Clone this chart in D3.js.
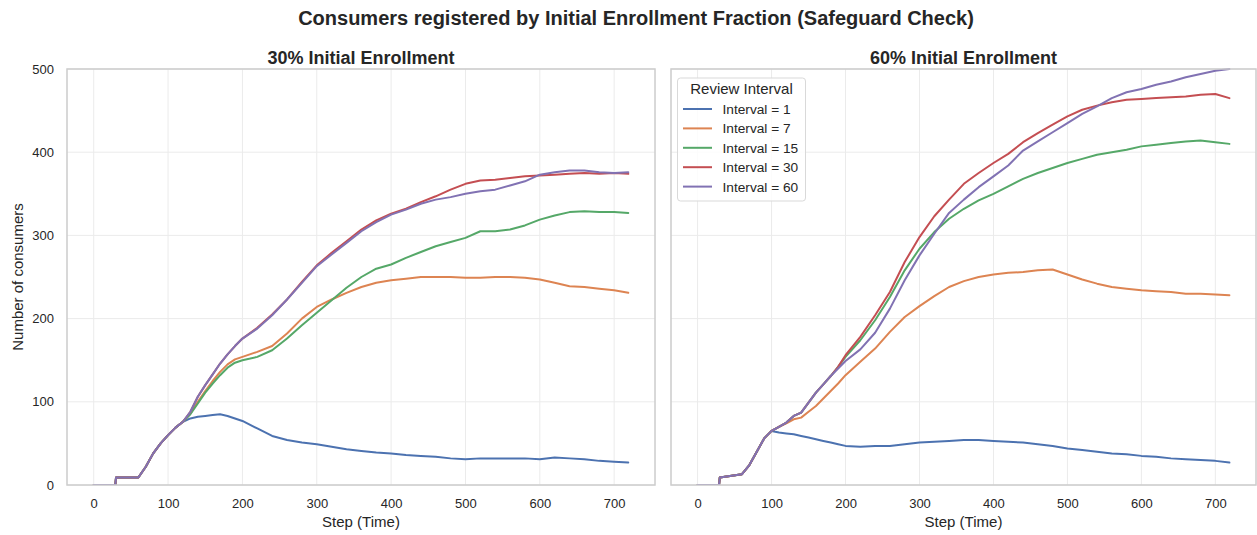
<!DOCTYPE html>
<html>
<head>
<meta charset="utf-8">
<script src="https://cdn.jsdelivr.net/npm/d3@7"></script>
<style>
  html, body { margin: 0; padding: 0; background: #ffffff; }
  svg { display: block; font-family: "Liberation Sans", Arial, sans-serif; }
</style>
</head>
<body>
<svg id="chart" width="1257" height="535"></svg>
<script>
// Simulation steps at which the registered-consumer counts were sampled
const steps = [0, 29, 30, 60, 70, 80, 90, 100, 110, 120, 130, 140, 150, 160, 170, 180, 190, 200,
  220, 240, 260, 280, 300, 320, 340, 360, 380, 400, 420, 440, 460, 480, 500, 520, 540, 560,
  580, 600, 620, 640, 660, 680, 700, 719];

const intervals = [1, 7, 15, 30, 60];
const seriesColors = ["#4C72B0", "#DD8452", "#55A868", "#C44E52", "#8172B3"];
const panelTitles = ["30% Initial Enrollment", "60% Initial Enrollment"];
const xTicks = [0, 100, 200, 300, 400, 500, 600, 700];
const yTicks = [0, 100, 200, 300, 400, 500];

// 30% initial enrollment
const p30_i1  = [0, 0, 9, 9, 22, 38, 50, 60, 69, 76, 80, 82, 83, 84, 85, 83, 80, 77,
  68, 59, 54, 51, 49, 46, 43, 41, 39, 38, 36, 35, 34, 32, 31, 32, 32, 32,
  32, 31, 33, 32, 31, 29, 28, 27];
const p30_i7  = [0, 0, 9, 9, 22, 38, 50, 60, 69, 76, 86, 100, 113, 125, 136, 145, 151, 154,
  160, 167, 182, 200, 214, 223, 231, 238, 243, 246, 248, 250, 250, 250, 249, 249, 250, 250,
  249, 247, 243, 239, 238, 236, 234, 231];
const p30_i15 = [0, 0, 9, 9, 22, 38, 50, 60, 69, 76, 85, 98, 111, 122, 132, 141, 147, 150,
  154, 162, 176, 192, 207, 222, 237, 250, 260, 265, 273, 280, 287, 292, 297, 305, 305, 307,
  312, 319, 324, 328, 329, 328, 328, 327];
const p30_i30 = [0, 0, 9, 9, 22, 38, 50, 60, 69, 76, 88, 106, 120, 133, 146, 157, 167, 176,
  189, 205, 223, 244, 264, 279, 293, 307, 318, 326, 332, 340, 347, 355, 362, 366, 367, 369,
  371, 372, 373, 374, 375, 374, 375, 374];
const p30_i60 = [0, 0, 9, 9, 22, 38, 50, 60, 69, 76, 88, 106, 120, 133, 146, 157, 167, 176,
  188, 204, 223, 243, 263, 277, 291, 305, 316, 325, 331, 338, 343, 346, 350, 353, 355, 360,
  365, 373, 376, 378, 378, 376, 375, 376];

// 60% initial enrollment
const p60_i1  = [0, 0, 9, 13, 24, 40, 56, 65, 63, 62, 61, 59, 57, 55, 53, 51, 49, 47,
  46, 47, 47, 49, 51, 52, 53, 54, 54, 53, 52, 51, 49, 47, 44, 42, 40, 38,
  37, 35, 34, 32, 31, 30, 29, 27];
const p60_i7  = [0, 0, 9, 13, 24, 40, 56, 65, 70, 74, 79, 81, 88, 95, 104, 113, 122, 132,
  148, 164, 184, 202, 215, 227, 238, 245, 250, 253, 255, 256, 258, 259, 253, 247, 242, 238,
  236, 234, 233, 232, 230, 230, 229, 228];
const p60_i15 = [0, 0, 9, 13, 24, 40, 56, 65, 70, 75, 83, 87, 99, 111, 121, 131, 142, 154,
  174, 198, 226, 258, 284, 304, 320, 332, 342, 350, 359, 368, 375, 381, 387, 392, 397, 400,
  403, 407, 409, 411, 413, 414, 412, 410];
const p60_i30 = [0, 0, 9, 13, 24, 40, 56, 65, 70, 75, 83, 87, 99, 111, 121, 131, 142, 156,
  178, 204, 232, 268, 298, 323, 343, 362, 375, 387, 398, 412, 423, 433, 443, 451, 456, 460,
  463, 464, 465, 466, 467, 469, 470, 465];
const p60_i60 = [0, 0, 9, 13, 24, 40, 56, 65, 70, 75, 83, 87, 99, 111, 121, 131, 140, 149,
  163, 183, 212, 246, 276, 302, 327, 343, 358, 371, 384, 402, 413, 424, 435, 446, 455, 465,
  472, 476, 481, 485, 490, 494, 498, 500];

const panels = [
  { title: panelTitles[0], series: [p30_i1, p30_i7, p30_i15, p30_i30, p30_i60],
    left: 67, right: 655, showY: true, legend: false },
  { title: panelTitles[1], series: [p60_i1, p60_i7, p60_i15, p60_i30, p60_i60],
    left: 671, right: 1256, showY: false, legend: true }
];

const plotTop = 69, plotBottom = 485;
const textColor = "#262626";
const svg = d3.select("#chart");

// Figure title
svg.append("text")
  .attr("x", 636).attr("y", 25)
  .attr("text-anchor", "middle")
  .attr("font-size", 20).attr("font-weight", "bold")
  .attr("fill", textColor)
  .text("Consumers registered by Initial Enrollment Fraction (Safeguard Check)");

// Shared y-axis label
svg.append("text")
  .attr("transform", `translate(23,${(plotTop + plotBottom) / 2}) rotate(-90)`)
  .attr("text-anchor", "middle")
  .attr("font-size", 15).attr("fill", textColor)
  .text("Number of consumers");

panels.forEach((p, pi) => {
  const x = d3.scaleLinear().domain([-35.95, 754.95]).range([p.left, p.right]);
  const y = d3.scaleLinear().domain([0, 500]).range([plotBottom, plotTop]);
  const g = svg.append("g");

  // Grid
  g.append("g").selectAll("line").data(xTicks).join("line")
    .attr("x1", d => x(d)).attr("x2", d => x(d))
    .attr("y1", plotTop).attr("y2", plotBottom)
    .attr("stroke", "#ebebeb").attr("stroke-width", 1);
  g.append("g").selectAll("line").data(yTicks).join("line")
    .attr("x1", p.left).attr("x2", p.right)
    .attr("y1", d => y(d)).attr("y2", d => y(d))
    .attr("stroke", "#ebebeb").attr("stroke-width", 1);

  // Axes (tick labels only, no tick marks)
  const xAxis = g.append("g")
    .attr("transform", `translate(0,${plotBottom})`)
    .call(d3.axisBottom(x).tickValues(xTicks).tickSize(0).tickPadding(13.5).tickFormat(d3.format("d")));
  xAxis.select(".domain").remove();
  xAxis.selectAll("text").attr("font-size", 13).attr("fill", textColor)
    .attr("font-family", "Liberation Sans, Arial, sans-serif");

  if (p.showY) {
    const yAxis = g.append("g")
      .attr("transform", `translate(${p.left},0)`)
      .call(d3.axisLeft(y).tickValues(yTicks).tickSize(0).tickPadding(13).tickFormat(d3.format("d")));
    yAxis.select(".domain").remove();
    yAxis.selectAll("text").attr("font-size", 13).attr("fill", textColor)
      .attr("font-family", "Liberation Sans, Arial, sans-serif");
  }

  // Series lines
  const clipId = "clip" + pi;
  svg.append("clipPath").attr("id", clipId).append("rect")
    .attr("x", p.left).attr("y", plotTop - 1)
    .attr("width", p.right - p.left).attr("height", plotBottom - plotTop + 1);
  const line = d3.line().x((d, i) => x(steps[i])).y(d => y(d));
  g.append("g").attr("clip-path", `url(#${clipId})`)
    .selectAll("path").data(p.series).join("path")
    .attr("d", line)
    .attr("fill", "none")
    .attr("stroke", (d, i) => seriesColors[i])
    .attr("stroke-width", 2)
    .attr("stroke-linejoin", "round")
    .attr("stroke-linecap", "round");

  // Frame
  g.append("rect")
    .attr("x", p.left).attr("y", plotTop)
    .attr("width", p.right - p.left).attr("height", plotBottom - plotTop)
    .attr("fill", "none").attr("stroke", "#cccccc").attr("stroke-width", 1.5);

  // Panel title and x label
  g.append("text")
    .attr("x", (p.left + p.right) / 2).attr("y", 63.5)
    .attr("text-anchor", "middle")
    .attr("font-size", 18).attr("font-weight", "bold").attr("fill", textColor)
    .text(p.title);
  g.append("text")
    .attr("x", (p.left + p.right) / 2).attr("y", 527)
    .attr("text-anchor", "middle")
    .attr("font-size", 15).attr("fill", textColor)
    .text("Step (Time)");

  if (p.legend) {
    const lg = g.append("g");
    lg.append("rect")
      .attr("x", 677.5).attr("y", 78).attr("width", 128).attr("height", 123)
      .attr("rx", 3).attr("fill", "#ffffff").attr("fill-opacity", 0.85)
      .attr("stroke", "#d9d9d9").attr("stroke-width", 1);
    lg.append("text")
      .attr("x", 741.5).attr("y", 93.5)
      .attr("text-anchor", "middle")
      .attr("font-size", 15).attr("fill", textColor)
      .text("Review Interval");
    intervals.forEach((iv, i) => {
      const yy = 109 + i * 19.4;
      lg.append("line")
        .attr("x1", 683).attr("x2", 712).attr("y1", yy).attr("y2", yy)
        .attr("stroke", seriesColors[i]).attr("stroke-width", 2);
      lg.append("text")
        .attr("x", 722.5).attr("y", yy + 5)
        .attr("font-size", 13.7).attr("fill", textColor)
        .text(`Interval = ${iv}`);
    });
  }
});
</script>
</body>
</html>
